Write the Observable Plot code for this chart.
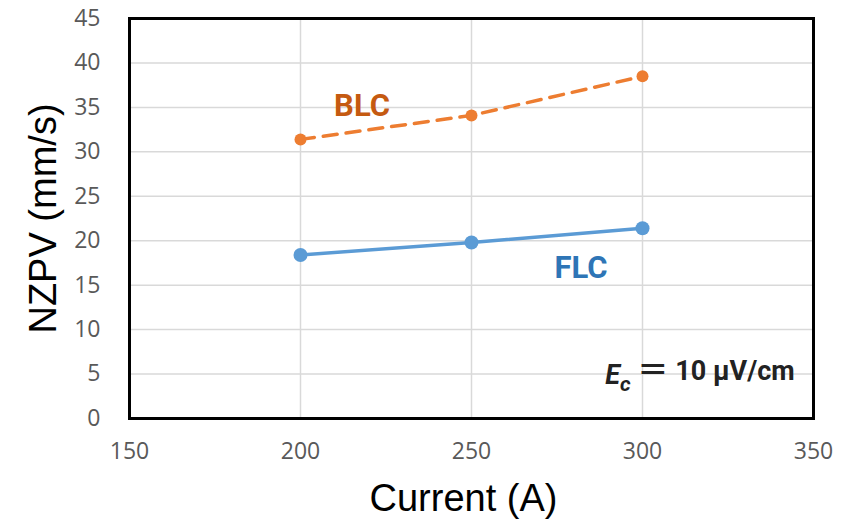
<!DOCTYPE html>
<html><head><meta charset="utf-8">
<script src="https://cdn.jsdelivr.net/npm/d3@7"></script>
<script src="https://cdn.jsdelivr.net/npm/@observablehq/plot@0.6"></script>
<style>body{margin:0;background:#fff}</style>
</head><body><div id="chart"></div>
<script>
const currents = [200, 250, 300];
const blc = [31.4, 34.1, 38.5];
const flc = [18.4, 19.8, 21.4];
const xTicks = [150, 200, 250, 300, 350];
const yTicks = [0, 5, 10, 15, 20, 25, 30, 35, 40, 45];
const seriesLabels = [
  {x: 218, y: 35.1, text: "BLC", color: "#C55A11"},
  {x: 282, y: 16.9, text: "FLC", color: "#2E75B6"}
];
const blcData = currents.map((c, i) => ({c, v: blc[i]}));
const flcData = currents.map((c, i) => ({c, v: flc[i]}));

const chart = Plot.plot({
  width: 852, height: 522,
  marginLeft: 129, marginRight: 39, marginTop: 18, marginBottom: 104,
  style: {fontFamily: "'Open Sans', sans-serif", background: "#fff"},
  x: {domain: [150, 350], ticks: xTicks, label: null},
  y: {domain: [0, 45], ticks: yTicks, label: null},
  marks: [
    Plot.gridY(yTicks, {stroke: "#d9d9d9", strokeOpacity: 1, strokeWidth: 1.5}),
    Plot.gridX(xTicks, {stroke: "#d9d9d9", strokeOpacity: 1, strokeWidth: 1.5}),
    Plot.axisX(xTicks, {tickSize: 0, tickPadding: 24, fontSize: 23, fill: "#595959", label: "Current (A)", labelAnchor: "center", labelArrow: "none", labelOffset: 92}),
    Plot.axisY(yTicks, {tickSize: 0, tickPadding: 29, fontSize: 23, fill: "#595959", label: "NZPV (mm/s)", labelAnchor: "center", labelArrow: "none", labelOffset: 100}),
    Plot.frame({stroke: "#000", strokeWidth: 3}),
    Plot.line(blcData, {x: "c", y: "v", stroke: "#ED7D31", strokeWidth: 3.5, strokeDasharray: "14,9"}),
    Plot.dot(blcData, {x: "c", y: "v", fill: "#ED7D31", r: 6}),
    Plot.line(flcData, {x: "c", y: "v", stroke: "#5B9BD5", strokeWidth: 3.5}),
    Plot.dot(flcData, {x: "c", y: "v", fill: "#5B9BD5", r: 7}),
    Plot.text(seriesLabels, {x: "x", y: "y", text: "text", fill: "color", fontSize: 31, fontWeight: "bold", fontFamily: "Roboto, sans-serif"}),
    Plot.text([{x: 344.5, y: 4.8}], {x: "x", y: "y", text: () => "Ec = 10 μV/cm", textAnchor: "end", fontSize: 27, fontWeight: "bold", fontFamily: "Roboto, sans-serif", fill: "#222", className: "ec-note"})
  ]
});
document.getElementById("chart").append(chart);

// axis label styling
d3.select(chart).selectAll("[aria-label='x-axis label'] text")
  .style("font-size", "38px").attr("fill", "#000").attr("dx", -8).style("font-family", "'Liberation Sans', Arial, sans-serif");
d3.select(chart).selectAll("[aria-label='y-axis label'] text")
  .style("font-size", "38px").attr("fill", "#000").style("font-family", "'Liberation Sans', Arial, sans-serif");

// rich text for Ec annotation
d3.select(chart).selectAll(".ec-note text").each(function() {
  const t = d3.select(this);
  t.text(null);
  t.append("tspan").attr("font-style", "italic").text("E");
  t.append("tspan").attr("font-style", "italic").attr("font-size", 21).attr("dy", "0.3em").text("c");
  t.append("tspan").attr("dy", "-0.3em").attr("font-weight", "normal").attr("font-size", 36).attr("font-family", "'DejaVu Sans', sans-serif").text("\u2009=\u2009");
  t.append("tspan").text("10 μV/cm");
});
</script></body></html>
